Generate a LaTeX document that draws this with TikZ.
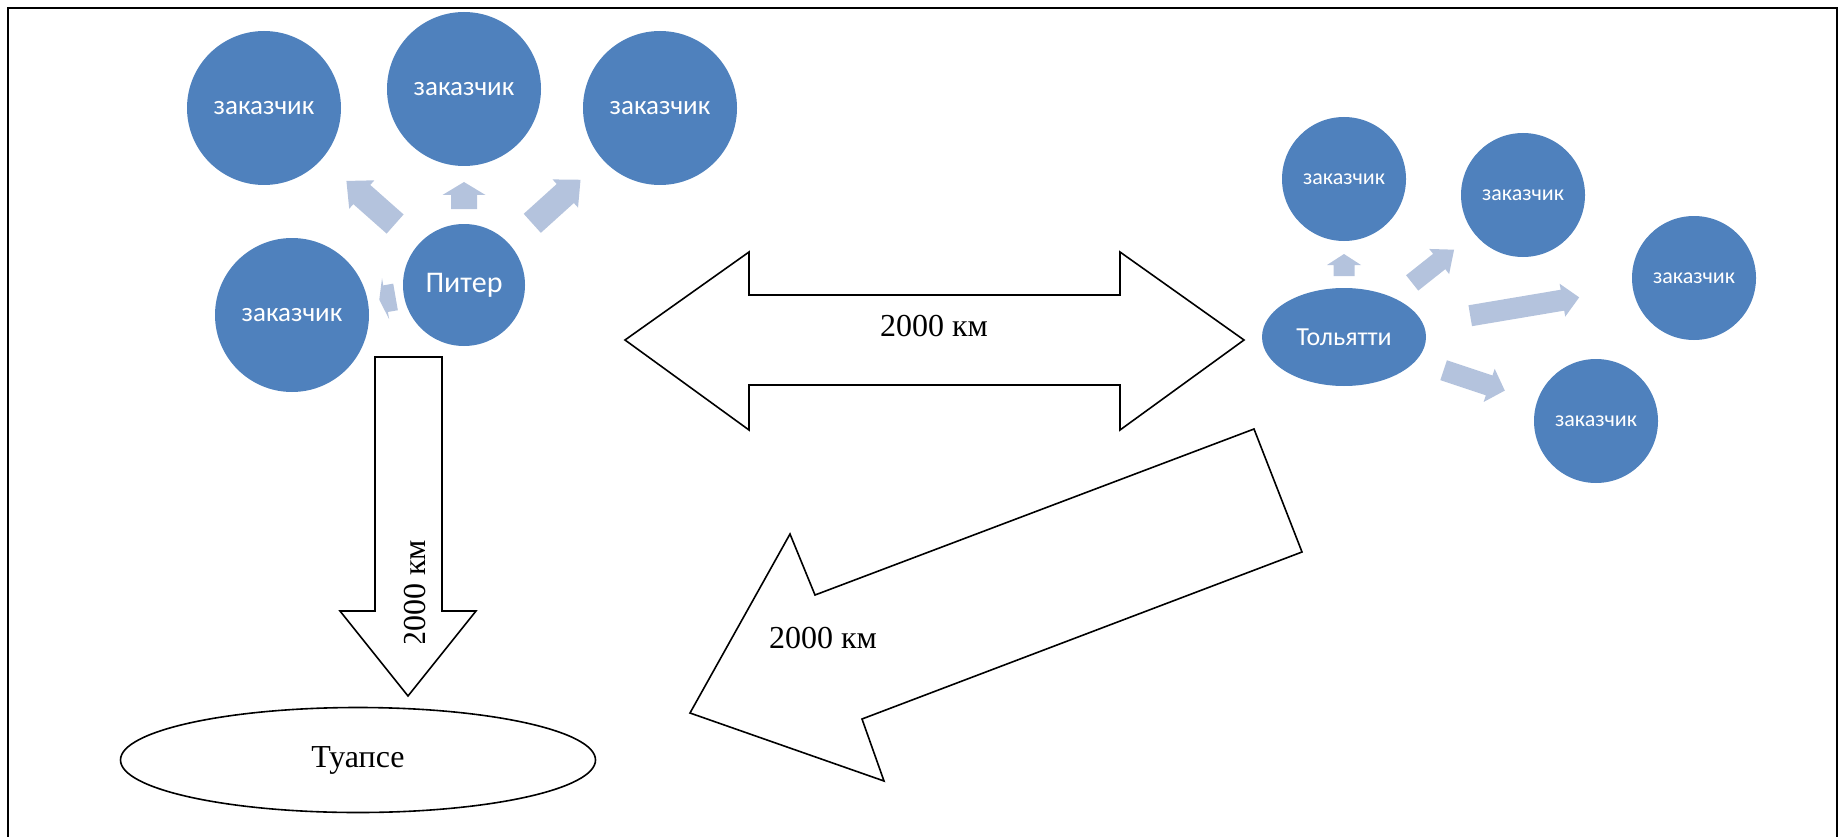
\documentclass[tikz,border=0pt]{standalone}
\usepackage{fontspec}
\setmainfont{Liberation Serif}
\newfontfamily\carl{Carlito}
\usetikzlibrary{calc,shapes.geometric}
\definecolor{cblue}{RGB}{79,129,189}
\definecolor{afill}{RGB}{180,195,221}
% #1 from node, #2 to node, #3 tail dist, #4 head-base dist, #5 tip dist, #6 half shaft, #7 half head
\newcommand\blkarrow[7]{%
  \coordinate (bt) at ($(#1)!#3!(#2)$);
  \coordinate (bh) at ($(#1)!#4!(#2)$);
  \coordinate (bp) at ($(#1)!#5!(#2)$);
  \fill[afill] ($(bt)!#6!90:(#2)$) -- ($(bh)!#6!90:(#2)$) -- ($(bh)!#7!90:(#2)$) -- (bp)
    -- ($(bh)!#7!-90:(#2)$) -- ($(bh)!#6!-90:(#2)$) -- ($(bt)!#6!-90:(#2)$) -- cycle;
}
\tikzset{
  cust/.style={circle, fill=cblue, text=white, inner sep=0pt, minimum size=154pt,
    font=\carl\fontsize{27}{30}\selectfont},
  custs/.style={cust, minimum size=124pt, font=\carl\fontsize{22}{26}\selectfont},
  blockline/.style={draw=black, line width=1.6pt, fill=white, line join=miter},
  lbl/.style={font=\fontsize{32}{36}\selectfont, inner sep=0pt},
  frame/.style={draw=black, line width=2pt}
}
\begin{document}
\begin{tikzpicture}[x=1pt,y=-1pt]
\useasboundingbox (0,0) rectangle (1838,837);
\draw[frame] (7.5,837) -- (7.5,8.5) -- (1836.5,8.5) -- (1836.5,837);

% Piter group
\node[cust] (c1) at (264,108) {заказчик};
\node[cust] (c2) at (464,89) {заказчик};
\node[cust] (c3) at (660,108) {заказчик};
\node[cust] (c4) at (292,315) {заказчик};
\node[cust, minimum size=122pt, font=\carl\fontsize{30}{34}\selectfont] (piter) at (464,285) {Питер};

\blkarrow{piter}{c1}{92pt}{136.5pt}{157pt}{12.8pt}{19pt}
\blkarrow{piter}{c2}{76pt}{90pt}{103pt}{13pt}{21.5pt}
\blkarrow{piter}{c3}{92pt}{136.5pt}{157pt}{12.8pt}{19pt}
\blkarrow{piter}{c4}{69.5pt}{79.6pt}{86pt}{13.5pt}{20.8pt}

% Tolyatti group
\node[ellipse, fill=cblue, text=white, inner sep=0pt, minimum width=164pt, minimum height=98pt,
  font=\carl\fontsize{26}{30}\selectfont] (tol) at (1344,337) {Тольятти};
\node[custs] (t1) at (1344,179) {заказчик};
\node[custs] (t2) at (1523,195) {заказчик};
\node[custs] (t3) at (1694,278) {заказчик};
\node[custs] (t4) at (1596,421) {заказчик};

\blkarrow{tol}{t1}{61pt}{72pt}{83pt}{10.5pt}{17pt}
\blkarrow{tol}{t2}{87pt}{121.5pt}{140.5pt}{9.8pt}{16pt}
\blkarrow{tol}{t3}{128pt}{221.5pt}{238.5pt}{10.6pt}{16.7pt}
\blkarrow{tol}{t4}{105pt}{153pt}{169.5pt}{10.5pt}{17.5pt}

% double arrow
\draw[blockline] (625,340) -- (749,252) -- (749,295) -- (1120,295) -- (1120,252) -- (1244,340)
  -- (1120,430) -- (1120,385) -- (749,385) -- (749,430) -- cycle;
\node[lbl] (d1) at (934,326) {2000 км};

% down arrow
\draw[blockline] (375,357) -- (442,357) -- (442,611) -- (476,611) -- (408,696) -- (340,611)
  -- (375,611) -- cycle;
\begin{scope}
  \clip (380,360) rectangle (440,642);
  \node[lbl, rotate=90] (d2) at (415,594) {2000 км};
\end{scope}

% diagonal arrow
\draw[blockline] (1254,429) -- (1302,552) -- (862,719) -- (884,781) -- (690,713) -- (790,534)
  -- (815,595) -- cycle;
\node[lbl] (d3) at (823,638) {2000 км};

% Tuapse
\node[ellipse, draw=black, line width=1.6pt, inner sep=0pt, minimum width=475pt, minimum height=105pt,
  font=\fontsize{32}{36}\selectfont] (tua) at (358,760) {Туапсе};
\end{tikzpicture}
\end{document}
